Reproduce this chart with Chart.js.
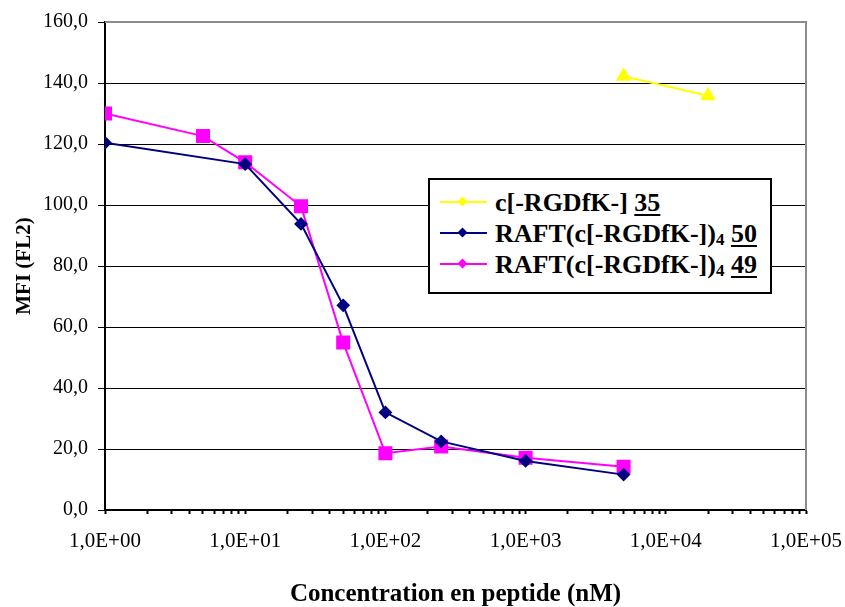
<!DOCTYPE html>
<html lang="fr">
  <head>
    <meta charset="utf-8">
    <title>MFI vs concentration</title>
    <style>
      body { margin: 0; background: #fff; }
      #wrap { position: relative; width: 845px; height: 607px; }
      #legende {
        position: absolute; left: 428px; top: 178px; width: 340px; height: 112px;
        border: 2px solid #000; background: #fff;
        font-family: "Liberation Serif", "Times New Roman", serif; font-weight: bold; font-size: 26px;
      }
      .ligne { position: absolute; left: 0; height: 31px; width: 340px; }
      .trait { position: absolute; left: 10px; top: 14px; width: 47px; height: 2px; }
      .losange { position: absolute; left: 29px; top: 11px; width: 7px; height: 7px; transform: rotate(45deg); }
      .texte { position: absolute; left: 65px; top: 0; line-height: 31px; white-space: nowrap; color: #000; }
      .texte u { text-underline-offset: 3px; text-decoration-thickness: 2px; }
      .texte sub { font-size: 17px; vertical-align: -3px; }
    </style>
  </head>

  <body>
    <div id="wrap">
      <canvas id="MyCanvas" width="845" height="607"></canvas>
      <div id="legende"></div>
    </div>

    <script src="https://cdn.jsdelivr.net/npm/chart.js@4/dist/chart.umd.min.js"></script>

    <script>
      // concentrations (nM) et MFI
      const xC35 = [5000, 20000];
      const yC35 = [142.2, 135.8];

      const xR50 = [1, 10, 25, 50, 100, 250, 1000, 5000];
      const yR50 = [120.4, 113.4, 93.8, 67.1, 32.0, 22.5, 16.1, 11.6];

      const xR49 = [1, 5, 10, 25, 50, 100, 250, 1000, 5000];
      const yR49 = [130.0, 122.6, 114.0, 99.6, 54.9, 18.6, 20.8, 17.1, 14.2];

      const seriesNames = ['c[-RGDfK-] <u>35</u>', 'RAFT(c[-RGDfK-])<sub>4</sub> <u>50</u>', 'RAFT(c[-RGDfK-])<sub>4</sub> <u>49</u>'];
      const seriesColors = ['#FFFF00', '#000080', '#FF00FF'];

      const xTickLabels = ['1,0E+00', '1,0E+01', '1,0E+02', '1,0E+03', '1,0E+04', '1,0E+05'];
      const yTicks = [0, 20, 40, 60, 80, 100, 120, 140, 160];

      function points(xs, ys) {
        return xs.map((x, i) => ({x: x, y: ys[i]}));
      }

      // cadre gris (haut et droite) de la zone de tracé
      const cadre = {
        id: 'cadre',
        afterDatasetsDraw(chart) {
          const a = chart.chartArea, ctx = chart.ctx;
          ctx.save();
          ctx.strokeStyle = '#8c8c8c';
          ctx.lineWidth = 2;
          ctx.beginPath();
          ctx.moveTo(a.left, a.top);
          ctx.lineTo(a.right, a.top);
          ctx.lineTo(a.right, a.bottom);
          ctx.stroke();
          ctx.restore();
        }
      };

      const serif = '"Liberation Serif", "Times New Roman", serif';

      new Chart(document.getElementById('MyCanvas'), {
        type: 'line',
        data: {
          datasets: [{
            label: 'c[-RGDfK-] 35',
            data: points(xC35, yC35),
            borderColor: seriesColors[0], backgroundColor: seriesColors[0],
            borderWidth: 2, pointStyle: 'triangle', pointRadius: 7
          }, {
            label: 'RAFT(c[-RGDfK-])4 50',
            data: points(xR50, yR50),
            borderColor: seriesColors[1], backgroundColor: seriesColors[1],
            borderWidth: 2, pointStyle: 'rectRot', pointRadius: 5.5
          }, {
            label: 'RAFT(c[-RGDfK-])4 49',
            data: points(xR49, yR49),
            borderColor: seriesColors[2], backgroundColor: seriesColors[2],
            borderWidth: 2, pointStyle: 'rect', pointRadius: 8.5
          }]
        },
        options: {
          responsive: false,
          animation: false,
          layout: { padding: { top: 22, right: 39, bottom: 0, left: 0 } },
          plugins: { legend: { display: false }, tooltip: { enabled: false } },
          elements: { line: { tension: 0 } },
          scales: {
            x: {
              type: 'logarithmic',
              min: 1, max: 100000,
              afterBuildTicks(scale) {
                const t = [];
                for (let e = 0; e < xTickLabels.length; e++) {
                  for (let m = 1; m <= 9; m++) {
                    const v = m * Math.pow(10, e);
                    if (v <= 100000) t.push({value: v});
                  }
                }
                scale.ticks = t;
              },
              afterFit(scale) {
                scale.height = 97;
                scale.paddingLeft = 0;
                scale.paddingRight = 0;
              },
              grid: { drawOnChartArea: false, drawTicks: true, tickLength: 4, tickColor: '#000', tickWidth: 2 },
              border: { color: '#000', width: 2 },
              ticks: {
                autoSkip: false, maxRotation: 0, padding: 15, color: '#000',
                font: { family: serif, size: 21 },
                callback(v) {
                  const e = Math.log10(v);
                  return Math.abs(e - Math.round(e)) < 1e-9 ? xTickLabels[Math.round(e)] : '';
                }
              },
              title: {
                display: true, text: 'Concentration en peptide (nM)', color: '#000',
                font: { family: serif, size: 25, weight: 'bold' }, padding: { bottom: -3 }
              }
            },
            y: {
              min: 0, max: 160,
              afterBuildTicks(scale) { scale.ticks = yTicks.map(v => ({value: v})); },
              afterFit(scale) { scale.width = 105; },
              grid: { color: '#000', lineWidth: 1, tickLength: 7, tickColor: '#000' },
              border: { color: '#000', width: 2 },
              ticks: {
                padding: 10, color: '#000',
                font: { family: serif, size: 20 },
                callback: v => v.toFixed(1).replace('.', ',')
              },
              title: {
                display: true, text: 'MFI (FL2)', color: '#000',
                font: { family: serif, size: 21, weight: 'bold' }, padding: { top: 12 }
              }
            }
          }
        },
        plugins: [cadre]
      });

      // légende encadrée dans la zone de tracé
      const legende = document.getElementById('legende');
      seriesNames.forEach((nom, i) => {
        const row = document.createElement('div');
        row.className = 'ligne';
        row.style.top = (7 + i * 31) + 'px';
        row.innerHTML = '<div class="trait" style="background:' + seriesColors[i] + '"></div>' +
                        '<div class="losange" style="background:' + seriesColors[i] + '"></div>' +
                        '<div class="texte">' + nom + '</div>';
        legende.appendChild(row);
      });
    </script>
  </body>
</html>
